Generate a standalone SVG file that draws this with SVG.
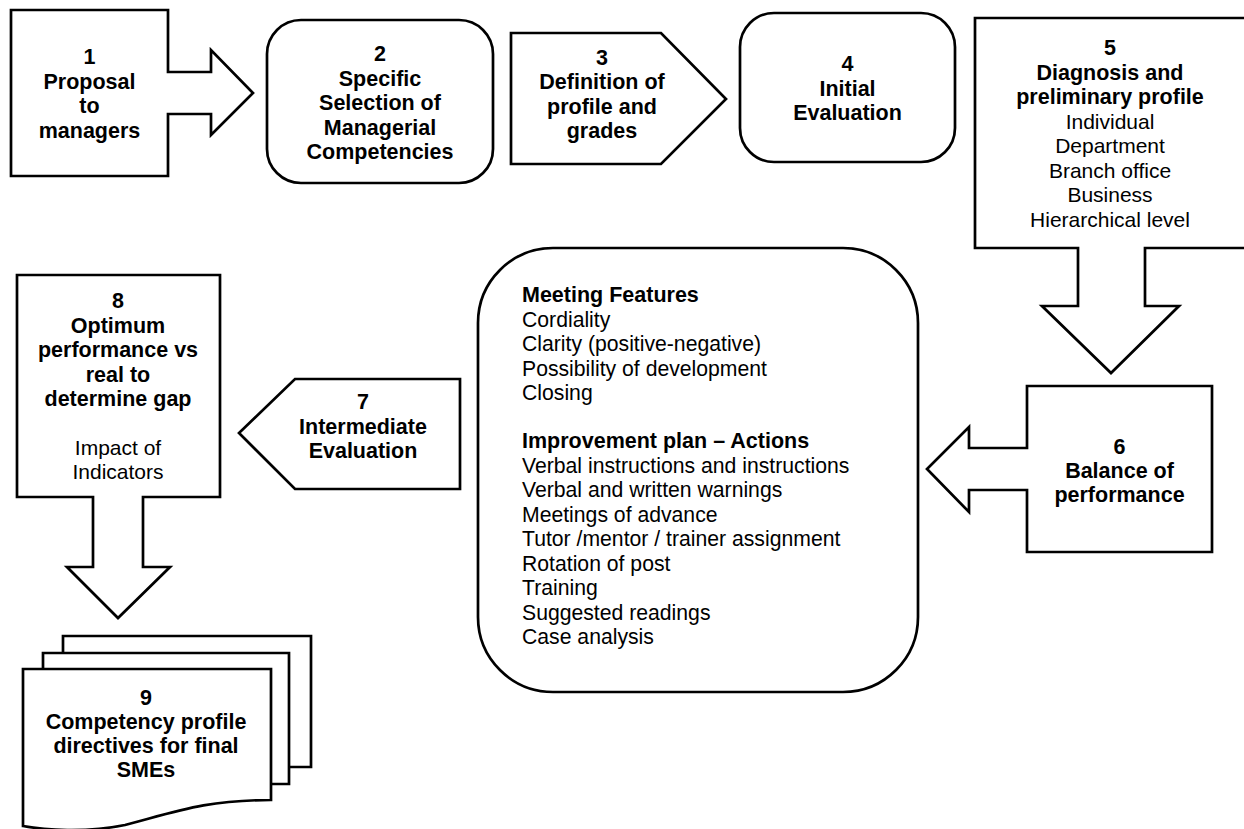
<svg xmlns="http://www.w3.org/2000/svg" width="1244" height="829" viewBox="0 0 1244 829">
<style>
.s{fill:#fff;stroke:#000;stroke-width:2.7;stroke-linejoin:miter}
.b{font-family:"Liberation Sans",Arial,sans-serif;font-size:21.5px;font-weight:bold;fill:#000;text-anchor:middle}
.r{font-family:"Liberation Sans",Arial,sans-serif;font-size:21px;fill:#000;text-anchor:middle}
.lb{font-family:"Liberation Sans",Arial,sans-serif;font-size:21.5px;font-weight:bold;fill:#000}
.lr{font-family:"Liberation Sans",Arial,sans-serif;font-size:21.2px;fill:#000}
</style>
<rect width="1244" height="829" fill="#fff"/>
<g id="connectors">
</g>
<g id="node1">
<polygon class="s" points="11,10 168,10 168,72 211,72 211,50 253,93 211,135 211,114 168,114 168,176 11,176"/>
<text class="b" x="89.5" y="64">1</text>
<text class="b" x="89.5" y="88.5">Proposal</text>
<text class="b" x="89.5" y="113">to</text>
<text class="b" x="89.5" y="137.5">managers</text>
</g>
<g id="node2">
<rect class="s" x="267" y="20" width="226" height="163" rx="34" ry="34"/>
<text class="b" x="380" y="61">2</text>
<text class="b" x="380" y="85.5">Specific</text>
<text class="b" x="380" y="110">Selection of</text>
<text class="b" x="380" y="134.5">Managerial</text>
<text class="b" x="380" y="159">Competencies</text>
</g>
<g id="node3">
<polygon class="s" points="511,33 661,33 726,99 661,164 511,164"/>
<text class="b" x="602" y="65">3</text>
<text class="b" x="602" y="89">Definition of</text>
<text class="b" x="602" y="113.5">profile and</text>
<text class="b" x="602" y="138">grades</text>
</g>
<g id="node4">
<rect class="s" x="740" y="13" width="215" height="149" rx="34" ry="34"/>
<text class="b" x="847.5" y="71">4</text>
<text class="b" x="847.5" y="95.5">Initial</text>
<text class="b" x="847.5" y="120">Evaluation</text>
</g>
<g id="node5">
<polygon class="s" points="975,18 1250,18 1250,248 1145,248 1145,306 1179,306 1111,373 1042,306 1078,306 1078,248 975,248"/>
<text class="b" x="1110" y="55">5</text>
<text class="b" x="1110" y="79.5">Diagnosis and</text>
<text class="b" x="1110" y="104">preliminary profile</text>
<text class="r" x="1110" y="128.5">Individual</text>
<text class="r" x="1110" y="153">Department</text>
<text class="r" x="1110" y="177.5">Branch office</text>
<text class="r" x="1110" y="202">Business</text>
<text class="r" x="1110" y="226.5">Hierarchical level</text>
</g>
<g id="node6">
<polygon class="s" points="1027,386 1212,386 1212,552 1027,552 1027,490 969,490 969,512 927,469 969,427 969,448 1027,448"/>
<text class="b" x="1119.5" y="454">6</text>
<text class="b" x="1119.5" y="478">Balance of</text>
<text class="b" x="1119.5" y="502">performance</text>
</g>
<g id="meeting">
<rect class="s" x="478" y="248" width="440" height="444" rx="75" ry="75"/>
<text class="lb" x="522" y="302">Meeting Features</text>
<text class="lr" x="522" y="326.5">Cordiality</text>
<text class="lr" x="522" y="351">Clarity (positive-negative)</text>
<text class="lr" x="522" y="375.5">Possibility of development</text>
<text class="lr" x="522" y="400">Closing</text>
<text class="lb" x="522" y="448">Improvement plan – Actions</text>
<text class="lr" x="522" y="472.5">Verbal instructions and instructions</text>
<text class="lr" x="522" y="497">Verbal and written warnings</text>
<text class="lr" x="522" y="521.5">Meetings of advance</text>
<text class="lr" x="522" y="546">Tutor /mentor / trainer assignment</text>
<text class="lr" x="522" y="570.5">Rotation of post</text>
<text class="lr" x="522" y="595">Training</text>
<text class="lr" x="522" y="619.5">Suggested readings</text>
<text class="lr" x="522" y="644">Case analysis</text>
</g>
<g id="node7">
<polygon class="s" points="460,379 460,489 295,489 239,433 295,379"/>
<text class="b" x="363" y="409">7</text>
<text class="b" x="363" y="434">Intermediate</text>
<text class="b" x="363" y="458">Evaluation</text>
</g>
<g id="node8">
<polygon class="s" points="17,275 220,275 220,497 143,497 143,567 170,567 118,618 67,567 93,567 93,497 17,497"/>
<text class="b" x="118" y="308">8</text>
<text class="b" x="118" y="333">Optimum</text>
<text class="b" x="118" y="357">performance vs</text>
<text class="b" x="118" y="382">real to</text>
<text class="b" x="118" y="406">determine gap</text>
<text class="r" x="118" y="455">Impact of</text>
<text class="r" x="118" y="479">Indicators</text>
</g>
<g id="node9">
<path class="s" d="M63,653 L63,636 L311,636 L311,767 L289,767"/>
<path class="s" d="M43,669 L43,653 L289,653 L289,784 L271,784"/>
<path class="s" d="M23,669 L271,669 L271,800 C205,800 175,812 125,825 C85,833 45,830 23,826 Z"/>
<text class="b" x="146" y="705">9</text>
<text class="b" x="146" y="729">Competency profile</text>
<text class="b" x="146" y="753">directives for final</text>
<text class="b" x="146" y="777">SMEs</text>
</g>
</svg>
